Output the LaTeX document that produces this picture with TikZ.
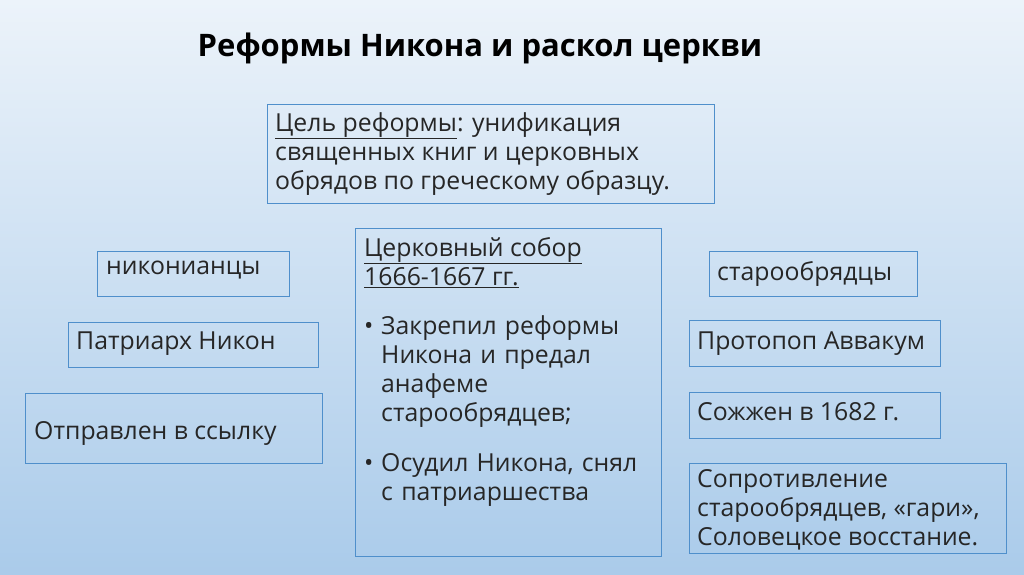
\documentclass[tikz,border=0pt]{standalone}
\usepackage{fontspec}
\setmainfont{Open Sans}
\begin{document}
\begin{tikzpicture}[x=1pt,y=-1pt,
 bx/.style={draw=boxblue,line width=0.8pt},
 tx/.style={anchor=north west,inner sep=0pt,align=left,font=\fontsize{24.8}{29}\selectfont,text=black!85}]
\definecolor{boxblue}{HTML}{4F8FCB}
\useasboundingbox (0,0) rectangle (1024,574);
\shade[top color={rgb,255:red,236;green,243;blue,250},bottom color={rgb,255:red,170;green,203;blue,234}] (0,0) rectangle (1024,574);
\node[anchor=center,font=\bfseries\fontsize{31}{36}\selectfont] (title) at (480,48) {Реформы Никона и раскол церкви};
\draw[bx] (267,104) rectangle (714,203);
\node[tx] (goal) at (275,112) {\underline{Цель реформы}: унификация\\священных книг и церковных\\обрядов по греческому образцу.};
\draw[bx] (355,228) rectangle (661,556);
\node[tx] (sobor) at (364,237) {\underline{Церковный собор}\\\underline{1666-1667 гг.}};
\node[tx,text width=295pt] (s1) at (364,315) {\makebox[17pt][l]{•}Закрепил реформы\\\hspace*{17pt}Никона и предал\\\hspace*{17pt}анафеме\\\hspace*{17pt}старообрядцев;};
\node[tx,text width=295pt] (s2) at (364,453) {\makebox[17pt][l]{•}Осудил Никона, снял\\\hspace*{17pt}с патриаршества};
\draw[bx] (97,251) rectangle (289,296);
\node[tx] (n1) at (106,261) {никонианцы};
\draw[bx] (68,322) rectangle (318,367);
\node[tx] (n2) at (76,332) {Патриарх Никон};
\draw[bx] (25,393) rectangle (322,463);
\node[tx] (n3) at (34,421) {Отправлен в ссылку};
\draw[bx] (709,251) rectangle (917,296);
\node[tx] (o1) at (717,261) {старообрядцы};
\draw[bx] (689,320) rectangle (940,366);
\node[tx] (o2) at (697,332) {Протопоп Аввакум};
\draw[bx] (689,392) rectangle (940,438);
\node[tx] (o3) at (697,402) {Сожжен в 1682 г.};
\draw[bx] (689,463) rectangle (1006,553);
\node[tx] (o4) at (697,469) {Сопротивление\\старообрядцев, «гари»,\\Соловецкое восстание.};
\end{tikzpicture}
\end{document}
